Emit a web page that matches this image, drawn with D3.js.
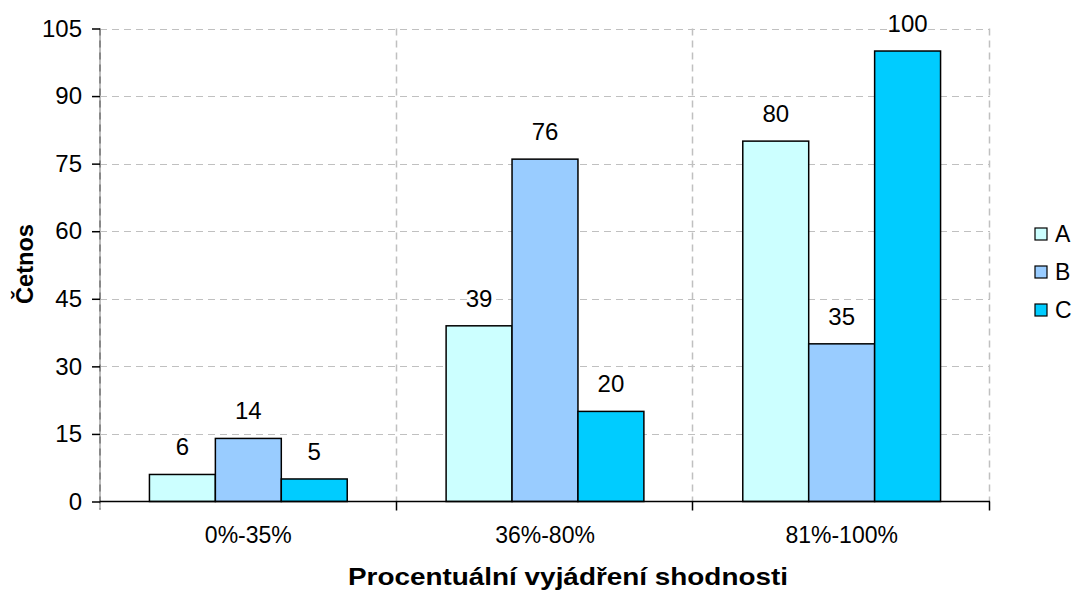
<!DOCTYPE html>
<html>
<head>
<meta charset="utf-8">
<script src="https://cdn.jsdelivr.net/npm/d3@7"></script>
<style>
  html, body { margin: 0; padding: 0; background: #fff; }
  svg { display: block; font-family: "Liberation Sans", Arial, sans-serif; }
</style>
</head>
<body>
<svg id="chart" width="1080" height="590"></svg>
<script>
// Frequency of percentage agreement, per group
const categories = ["0%-35%", "36%-80%", "81%-100%"];
const seriesNames = ["A", "B", "C"];
const seriesA = [6, 39, 80];
const seriesB = [14, 76, 35];
const seriesC = [5, 20, 100];
const yTicks = [0, 15, 30, 45, 60, 75, 90, 105];
const xTitle = "Procentuální vyjádření shodnosti";
const yTitle = "Četnos";

const colors = { A: "#CCFFFF", B: "#99CCFF", C: "#00CCFF" };
const values = { A: seriesA, B: seriesB, C: seriesC };

const svg = d3.select("#chart");
const plotLeft = 100, plotRight = 990, plotTop = 28.5, plotBottom = 501.5;

const x = d3.scaleBand().domain(categories).range([plotLeft, plotRight]).paddingInner(0).paddingOuter(0);
const xs = d3.scaleBand().domain(seriesNames).range([0, x.bandwidth()]).paddingInner(0).paddingOuter(0.75);
const y = d3.scaleLinear().domain([0, 105]).range([plotBottom, plotTop]);

const dash = "7,5";

// horizontal gridlines
svg.append("g").selectAll("line").data(yTicks.filter(d => d > 0)).join("line")
  .attr("x1", plotLeft).attr("x2", plotRight)
  .attr("y1", d => Math.round(y(d)) + 0.5).attr("y2", d => Math.round(y(d)) + 0.5)
  .attr("stroke", "#c0c0c0").attr("stroke-width", 1).attr("stroke-dasharray", dash);

// vertical gridlines at category boundaries
const bounds = categories.map(c => x(c) + x.bandwidth()).map(v => Math.round(v) - 0.5);
svg.append("g").selectAll("line").data(bounds).join("line")
  .attr("x1", d => d).attr("x2", d => d)
  .attr("y1", plotTop).attr("y2", plotBottom)
  .attr("stroke", "#c0c0c0").attr("stroke-width", 1.5).attr("stroke-dasharray", dash);

// left axis line
svg.append("line")
  .attr("x1", plotLeft).attr("x2", plotLeft).attr("y1", plotTop).attr("y2", plotBottom + 8)
  .attr("stroke", "#bbbbbb").attr("stroke-width", 2);
svg.append("line")
  .attr("x1", plotLeft).attr("x2", plotLeft).attr("y1", plotTop).attr("y2", plotBottom + 8)
  .attr("stroke", "#888888").attr("stroke-width", 2).attr("stroke-dasharray", dash);

// y axis via d3.axisLeft
const yAxis = svg.append("g")
  .attr("transform", `translate(${plotLeft},0)`)
  .call(d3.axisLeft(y).tickValues(yTicks).tickSize(8).tickPadding(10));
yAxis.select(".domain").remove();
yAxis.selectAll(".tick line").attr("stroke", "#000").attr("stroke-width", 1.5);
yAxis.selectAll(".tick text")
  .attr("font-size", 24).attr("fill", "#000")
  .attr("font-family", "Liberation Sans, Arial, sans-serif");

// bars
const groups = svg.append("g").selectAll("g").data(categories).join("g")
  .attr("transform", d => `translate(${x(d)},0)`);

groups.selectAll("rect").data((c, i) => seriesNames.map(s => ({ s, v: values[s][i] }))).join("rect")
  .attr("x", d => xs(d.s))
  .attr("width", xs.bandwidth())
  .attr("y", d => y(d.v))
  .attr("height", d => y(0) - y(d.v))
  .attr("fill", d => colors[d.s])
  .attr("stroke", "#000").attr("stroke-width", 1.5);

groups.selectAll("text").data((c, i) => seriesNames.map(s => ({ s, v: values[s][i] }))).join("text")
  .attr("x", d => xs(d.s) + xs.bandwidth() / 2)
  .attr("y", d => y(d.v) - 19)
  .attr("text-anchor", "middle")
  .attr("font-size", 24)
  .attr("fill", "#000")
  .text(d => d.v);

// bottom axis
const xAxis = svg.append("g")
  .attr("transform", `translate(0,${plotBottom})`)
  .call(d3.axisBottom(x).tickSize(0).tickPadding(25));
xAxis.select(".domain").attr("stroke", "#000").attr("stroke-width", 1.5)
  .attr("d", `M${plotLeft},0H${plotRight}`);
xAxis.selectAll(".tick text")
  .attr("font-size", 23).attr("fill", "#000")
  .attr("font-family", "Liberation Sans, Arial, sans-serif");
svg.append("g").selectAll("line").data(bounds).join("line")
  .attr("x1", d => d).attr("x2", d => d)
  .attr("y1", plotBottom).attr("y2", plotBottom + 9)
  .attr("stroke", "#000").attr("stroke-width", 1.5);

// axis titles
svg.append("text")
  .attr("x", 568).attr("y", 585)
  .attr("text-anchor", "middle")
  .attr("font-size", 24).attr("font-weight", "bold")
  .attr("textLength", 440).attr("lengthAdjust", "spacingAndGlyphs")
  .text(xTitle);

svg.append("text")
  .attr("transform", "translate(33,264) rotate(-90)")
  .attr("text-anchor", "middle")
  .attr("font-size", 23).attr("font-weight", "bold")
  .attr("textLength", 80).attr("lengthAdjust", "spacingAndGlyphs")
  .text(yTitle);

// legend
const legend = svg.append("g").selectAll("g").data(seriesNames).join("g")
  .attr("transform", (d, i) => `translate(1035,${228 + i * 38})`);
legend.append("rect")
  .attr("width", 12).attr("height", 12)
  .attr("fill", d => colors[d]).attr("stroke", "#000").attr("stroke-width", 1.2);
legend.append("text")
  .attr("x", 20).attr("y", 14)
  .attr("font-size", 23).attr("fill", "#000")
  .text(d => d);
</script>
</body>
</html>
